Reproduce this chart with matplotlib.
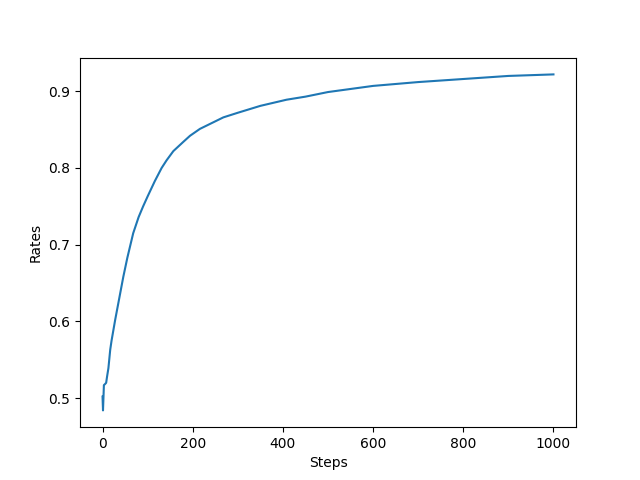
import matplotlib
matplotlib.use("Agg")
from matplotlib import pyplot as plt

steps = [0, 1, 2, 3, 5, 8, 10, 13, 17, 20, 28, 37, 46, 55, 68, 80, 90, 100,
         116, 131, 142, 157, 179, 194, 216, 268, 300, 350, 408, 450, 500,
         600, 700, 800, 900, 1000]
rates = [0.502, 0.484, 0.500, 0.517, 0.518, 0.520, 0.528, 0.539, 0.563,
         0.575, 0.602, 0.630, 0.658, 0.683, 0.715, 0.736, 0.750, 0.763,
         0.783, 0.800, 0.810, 0.822, 0.834, 0.842, 0.851, 0.866, 0.872,
         0.881, 0.889, 0.893, 0.899, 0.907, 0.912, 0.916, 0.920, 0.922]

fig = plt.figure(figsize=(6.4, 4.8), dpi=100)
plt.plot(steps, rates)
plt.xlabel("Steps")
plt.ylabel("Rates")
plt.savefig("out.png")
